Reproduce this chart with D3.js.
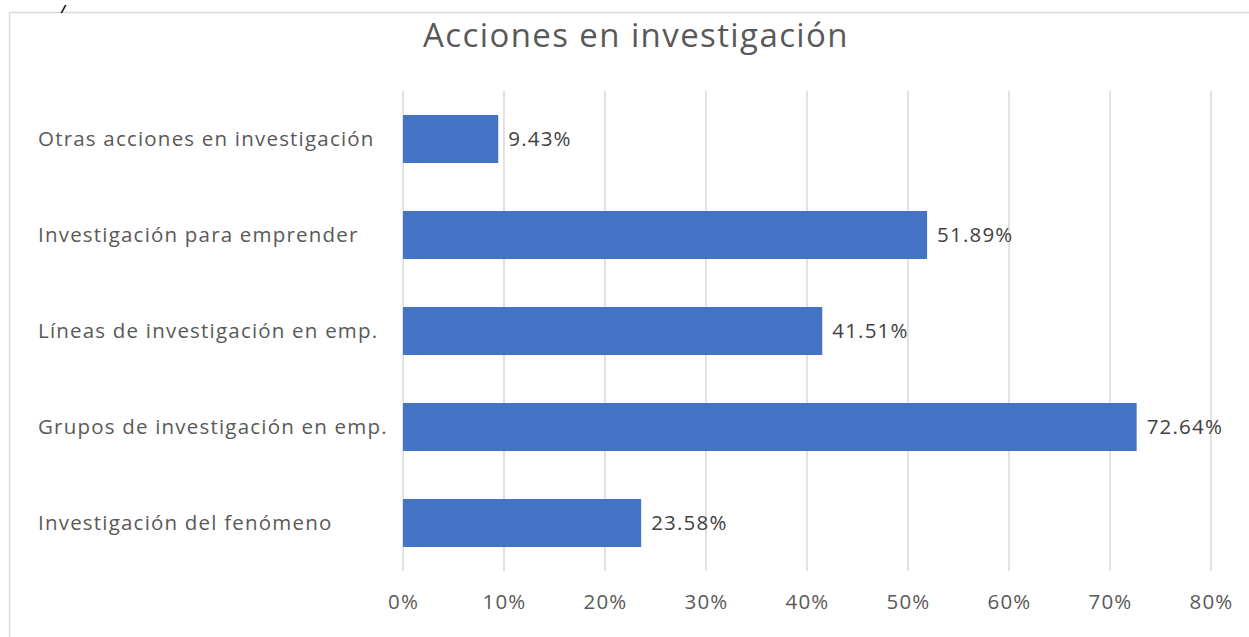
<!DOCTYPE html>
<html>
<head>
<meta charset="utf-8">
<script src="https://cdn.jsdelivr.net/npm/d3@7"></script>
<style>
  html, body { margin: 0; padding: 0; background: #fff; }
  svg { display: block; }
  text { font-family: "Open Sans", "Noto Sans", sans-serif; }
</style>
</head>
<body>
<svg id="chart" width="1249" height="637"></svg>
<script>
// Categories, top to bottom
const categories = [
  "Otras acciones en investigación",
  "Investigación para emprender",
  "Líneas de investigación en emp.",
  "Grupos de investigación en emp.",
  "Investigación del fenómeno"
];
// Share of respondents (%)
const values = [9.43, 51.89, 41.51, 72.64, 23.58];
// Axis ticks (%)
const tickValues = [0, 10, 20, 30, 40, 50, 60, 70, 80];
const chartTitle = "Acciones en investigación";

const svg = d3.select("#chart");
const W = 1249, H = 637;
const plot = { left: 403, right: 1211, top: 91, bottom: 571 };
const labelFont = 20.5, labelSpacing = 1.2;

// Chart area frame
svg.append("rect")
  .attr("x", 9.5).attr("y", 12.5)
  .attr("width", W + 20).attr("height", H + 20)
  .attr("fill", "#fff").attr("stroke", "#d9d9d9").attr("stroke-width", 1.5);

// Fragment of text above the chart frame
svg.append("text")
  .attr("x", 61).attr("y", 12.5)
  .attr("font-size", 11).attr("font-style", "italic").attr("font-weight", "bold")
  .attr("fill", "#000")
  .text("/");

const x = d3.scaleLinear().domain([0, 80]).range([plot.left, plot.right]);
const y = d3.scaleBand().domain(categories).range([plot.top, plot.bottom]).paddingInner(0.5).paddingOuter(0.25);

// Vertical gridlines
svg.append("g")
  .selectAll("line")
  .data(tickValues)
  .join("line")
  .attr("x1", d => x(d)).attr("x2", d => x(d))
  .attr("y1", plot.top).attr("y2", plot.bottom)
  .attr("stroke", "#d9d9d9").attr("stroke-width", 1.5);

// Bottom axis labels
const xAxis = d3.axisBottom(x)
  .tickValues(tickValues)
  .tickFormat(d => d + "%")
  .tickSize(0)
  .tickPadding(23);
const gx = svg.append("g")
  .attr("transform", `translate(0,${plot.bottom})`)
  .call(xAxis);
gx.select(".domain").remove();
gx.selectAll("text")
  .attr("font-family", "\"Open Sans\", sans-serif")
  .attr("font-size", labelFont)
  .attr("letter-spacing", labelSpacing)
  .attr("fill", "#595959");

// Category labels, left aligned
svg.append("g")
  .selectAll("text")
  .data(categories)
  .join("text")
  .attr("x", 38)
  .attr("y", d => y(d) + y.bandwidth() / 2)
  .attr("dy", "0.35em")
  .attr("font-size", labelFont)
  .attr("letter-spacing", labelSpacing)
  .attr("fill", "#595959")
  .text(d => d);

// Bars
svg.append("g")
  .selectAll("rect")
  .data(categories)
  .join("rect")
  .attr("x", x(0))
  .attr("y", d => y(d))
  .attr("width", (d, i) => x(values[i]) - x(0))
  .attr("height", y.bandwidth())
  .attr("fill", "#4472c4");

// Value labels
svg.append("g")
  .selectAll("text")
  .data(categories)
  .join("text")
  .attr("x", (d, i) => x(values[i]) + 10)
  .attr("y", d => y(d) + y.bandwidth() / 2)
  .attr("dy", "0.35em")
  .attr("font-size", labelFont)
  .attr("letter-spacing", labelSpacing)
  .attr("fill", "#404040")
  .text((d, i) => values[i].toFixed(2) + "%");

// Title
svg.append("text")
  .attr("x", 636).attr("y", 46.5)
  .attr("text-anchor", "middle")
  .attr("font-size", 33)
  .attr("letter-spacing", 1.4)
  .attr("fill", "#595959")
  .text(chartTitle);
</script>
</body>
</html>
